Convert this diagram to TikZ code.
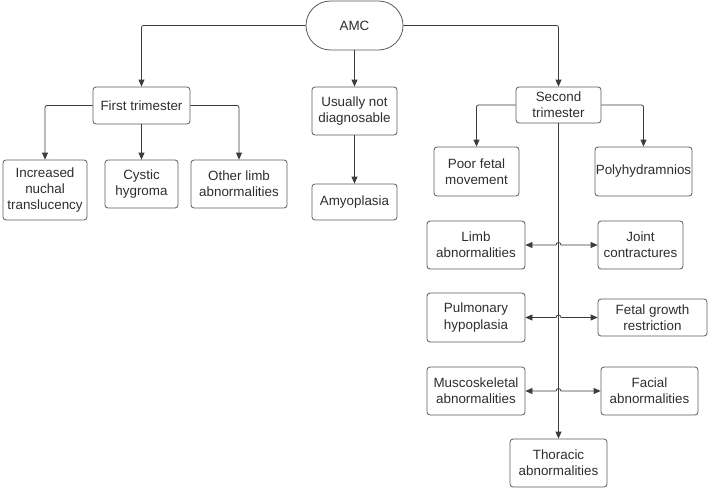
\documentclass[tikz,border=0pt]{standalone}
\usepackage{fontspec}
\setmainfont{Liberation Sans}
\usetikzlibrary{arrows.meta, shapes.misc}
\definecolor{edge}{HTML}{3C3C3C}
\definecolor{frame}{HTML}{5A5A5A}
\definecolor{ink}{HTML}{2E2E2E}
\tikzset{
	box/.style={draw=frame, line width=0.8pt, rounded corners=3pt, align=center, inner sep=0pt, text=ink,
		font=\fontsize{13.4}{16.3}\selectfont},
	root/.style={box, rounded rectangle, rounded corners=0pt},
	link/.style={draw=edge, line width=0.8pt, rounded corners=2pt, -{Triangle[length=7pt,width=6pt]}},
	both/.style={draw=edge, line width=0.8pt, {Triangle[length=7pt,width=6pt]}-{Triangle[length=7pt,width=6pt]}}
}

\begin{document}
\begin{tikzpicture}[x=1pt, y=-1pt]
	\useasboundingbox (0,0) rectangle (709,490);

	% --- Top ---
	\node[root, minimum width=97pt, minimum height=49pt] (amc) at (354.5,25.5) {AMC};

	% --- First trimester branch ---
	\node[box, minimum width=97pt, minimum height=37pt] (first) at (141.5,105.5) {First trimester};
	\node[box, minimum width=84pt, minimum height=60pt] (nuchal) at (45,190) {Increased\\nuchal\\translucency};
	\node[box, minimum width=73pt, minimum height=48pt] (cystic) at (141.5,184) {Cystic\\hygroma};
	\node[box, minimum width=96pt, minimum height=48pt] (otherlimb) at (239,184) {Other limb\\abnormalities};

	% --- Middle branch ---
	\node[box, minimum width=85pt, minimum height=48pt] (usually) at (354.5,111) {Usually not\\diagnosable};
	\node[box, minimum width=85pt, minimum height=36pt] (amyo) at (354.5,202) {Amyoplasia};

	% --- Second trimester branch ---
	\node[box, minimum width=85pt, minimum height=36pt] (second) at (558.5,105) {Second\\trimester};
	\node[box, minimum width=85pt, minimum height=49pt] (poor) at (476.5,171.5) {Poor fetal\\movement};
	\node[box, minimum width=97pt, minimum height=49pt] (poly) at (643.5,171.5) {Polyhydramnios};
	\node[box, minimum width=98pt, minimum height=48pt] (limb) at (476,245) {Limb\\abnormalities};
	\node[box, minimum width=85pt, minimum height=48pt] (joint) at (640.5,245) {Joint\\contractures};
	\node[box, minimum width=98pt, minimum height=49pt] (pulm) at (476,317.5) {Pulmonary\\hypoplasia};
	\node[box, minimum width=109pt, minimum height=37pt] (growth) at (652.5,317.5) {Fetal growth\\restriction};
	\node[box, minimum width=98pt, minimum height=48pt] (musc) at (476,391) {Muscoskeletal\\abnormalities};
	\node[box, minimum width=97pt, minimum height=48pt] (facial) at (649.5,391) {Facial\\abnormalities};
	\node[box, minimum width=97pt, minimum height=48pt] (thor) at (558.5,463) {Thoracic\\abnormalities};

	% Links from AMC
	\draw[link] (amc.west) -| (first.north);
	\draw[link] (amc.south) -- (usually.north);
	\draw[link] (amc.east) -| (second.north);

	% First trimester
	\draw[link] (first.west) -| (nuchal.north);
	\draw[link] (first.south) -- (cystic.north);
	\draw[link] (first.east) -| (otherlimb.north);

	\draw[link] (usually.south) -- (amyo.north);

	% Second trimester
	\draw[link] (second.west) -| (poor.north);
	\draw[link] (second.east) -| (poly.north);
	\draw[link] (second.south) -- (thor.north);

	% Side pairs, hopping over the spine
	\foreach \l/\r in {limb/joint, pulm/growth, musc/facial} {
		\coordinate (hop) at (\l.east -| second.south);
		\draw[both] (\l.east) -- ([xshift=-2.5pt]hop) arc[start angle=180, end angle=0, radius=2.5pt] -- (\r.west);
	}
\end{tikzpicture}
\end{document}
